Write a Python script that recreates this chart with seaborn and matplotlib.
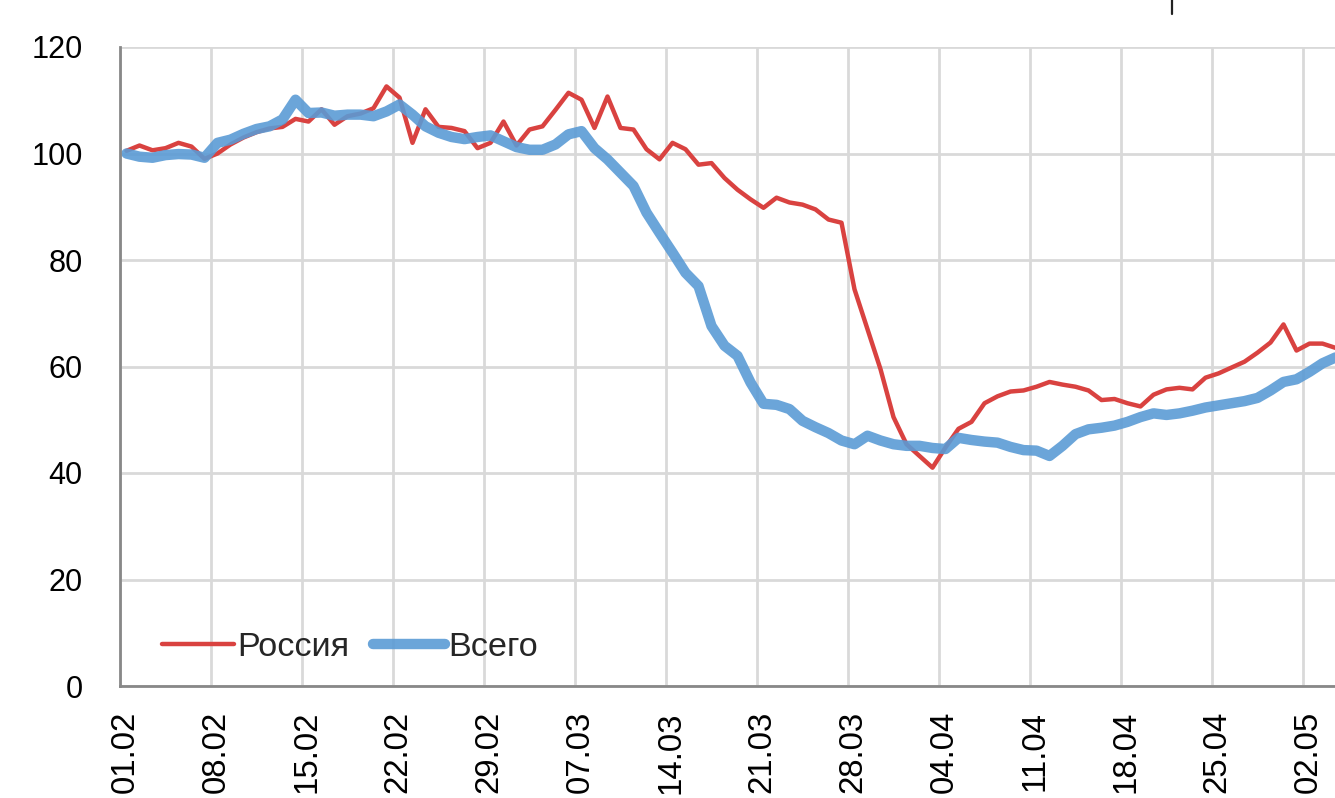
import numpy as np
import pandas as pd
import matplotlib
matplotlib.use("Agg")
import matplotlib.pyplot as plt
from matplotlib.lines import Line2D
from matplotlib import font_manager
import matplotlib.transforms as mtransforms
import seaborn as sns

# ---------------- data ----------------
start_date = "2020-02-01"
series_names = ["Россия", "Всего"]

russia = [100.5, 101.5, 100.6, 101.0, 102.0, 101.3, 99.0, 100.0, 101.7, 103.0,
          104.0, 104.7, 105.0, 106.5, 106.0, 108.3, 105.4, 107.0, 107.5, 108.5,
          112.6, 110.5, 102.0, 108.3, 105.0, 104.8, 104.2, 101.0, 102.0, 106.0,
          101.5, 104.5, 105.1, 108.2, 111.4, 110.1, 104.8, 110.7, 104.8, 104.5,
          100.8, 98.9, 102.0, 100.8, 97.9, 98.2, 95.4, 93.2, 91.4, 89.8,
          91.7, 90.8, 90.4, 89.5, 87.6, 87.0, 74.5, 67.0, 59.5, 50.5,
          45.4, 43.2, 41.0, 44.8, 48.3, 49.6, 53.1, 54.4, 55.3, 55.5,
          56.2, 57.1, 56.6, 56.2, 55.5, 53.7, 53.9, 53.1, 52.5, 54.7,
          55.7, 56.0, 55.7, 57.9, 58.7, 59.8, 60.9, 62.6, 64.5, 67.9,
          63.0, 64.3, 64.3, 63.5]

total = [100.0, 99.4, 99.2, 99.7, 99.9, 99.8, 99.2, 102.0, 102.6, 103.7,
         104.6, 105.1, 106.4, 110.1, 107.6, 107.7, 107.1, 107.3, 107.3, 107.0,
         107.9, 109.2, 107.3, 105.1, 103.9, 103.1, 102.7, 103.1, 103.4, 102.3,
         101.2, 100.7, 100.7, 101.7, 103.6, 104.2, 101.0, 98.9, 96.4, 93.9,
         88.9, 85.1, 81.4, 77.6, 75.1, 67.6, 63.9, 62.0, 57.0, 53.0,
         52.8, 52.0, 49.8, 48.6, 47.5, 46.1, 45.4, 47.0, 46.1, 45.4,
         45.1, 45.1, 44.7, 44.5, 46.6, 46.2, 45.9, 45.7, 44.9, 44.3,
         44.2, 43.2, 45.1, 47.3, 48.2, 48.5, 48.9, 49.6, 50.5, 51.2,
         50.9, 51.2, 51.7, 52.3, 52.7, 53.1, 53.5, 54.1, 55.5, 57.1,
         57.6, 59.0, 60.6, 61.7]

y_ticks = [0, 20, 40, 60, 80, 100, 120]
x_tick_labels = ["01.02", "08.02", "15.02", "22.02", "29.02", "07.03", "14.03",
                 "21.03", "28.03", "04.04", "11.04", "18.04", "25.04", "02.05"]

# daily values are drawn at midday of their date
dates = pd.date_range(start_date, periods=len(russia)) + pd.Timedelta(hours=12)
df = pd.DataFrame({"date": np.concatenate([dates, dates]),
                   "value": russia + total,
                   "series": [series_names[0]] * len(russia) + [series_names[1]] * len(total)})

# ---------------- style ----------------
sns.set_theme(style="white")
installed = {f.name for f in font_manager.fontManager.ttflist}
narrow = "Liberation Sans Narrow" in installed
fam = ["Liberation Sans Narrow", "Liberation Sans", "DejaVu Sans"] if narrow else ["Liberation Sans", "DejaVu Sans"]
plt.rcParams["font.family"] = fam
k = 1.0 if narrow else 0.85

red = "#D94240"
blue = "#5B9BD5"
grid_c = "#D9D9D9"
axis_c = "#888888"

fig = plt.figure(figsize=(13.35, 7.98), dpi=100)
ax = fig.add_axes([120 / 1335, 112 / 798, 1215 / 1335, 639 / 798])

sns.lineplot(data=df[df.series == series_names[0]], x="date", y="value",
             color=red, linewidth=3.2, ax=ax, label=series_names[0],
             solid_capstyle="round", solid_joinstyle="round")
sns.lineplot(data=df[df.series == series_names[1]], x="date", y="value",
             color=blue, alpha=0.9, linewidth=7.5, ax=ax, label=series_names[1],
             solid_capstyle="round", solid_joinstyle="round")

t0 = pd.Timestamp(start_date)
ax.set_xlim(t0, t0 + pd.Timedelta(days=1215 / 13))
ax.set_ylim(0, 120)

tick_dates = pd.date_range(start_date, periods=len(x_tick_labels), freq="7D")
ax.set_xticks(tick_dates)
ax.set_xticklabels(x_tick_labels, rotation=90, fontsize=28 * k, color="black")
ax.set_yticks(y_ticks)
ax.set_yticklabels([str(v) for v in y_ticks], fontsize=26 * k, color="black")

ax.set_xlabel("")
ax.set_ylabel("")

ax.grid(True, color=grid_c, linewidth=2.0)
ax.set_axisbelow(True)
for s in ["top", "right"]:
    ax.spines[s].set_visible(False)
for s in ["left", "bottom"]:
    ax.spines[s].set_color(axis_c)
    ax.spines[s].set_linewidth(2.0)
ax.tick_params(axis="both", which="major", length=10, width=2.0, color=axis_c,
               direction="out")
ax.tick_params(axis="y", pad=17)
ax.tick_params(axis="x", pad=8)

# shift rotated date labels slightly right, as in the source
offset = mtransforms.ScaledTranslation(5 / 100, 0, fig.dpi_scale_trans)
for lab in ax.get_xticklabels():
    lab.set_transform(lab.get_transform() + offset)

leg = ax.legend(loc="center left", bbox_to_anchor=(42 / 1215, 39 / 639),
                ncol=2, frameon=False, fontsize=29 * k, handlelength=2.1,
                handletextpad=0.1, columnspacing=0.7, borderpad=0,
                borderaxespad=0)

# small vertical mark at top (frame edge of the source layout)
fig.add_artist(Line2D([1172 / 1335, 1172 / 1335], [1.0, 1 - 14 / 798],
                      transform=fig.transFigure, color="#222222", linewidth=1.6))

fig.savefig("out.png", dpi=100)
